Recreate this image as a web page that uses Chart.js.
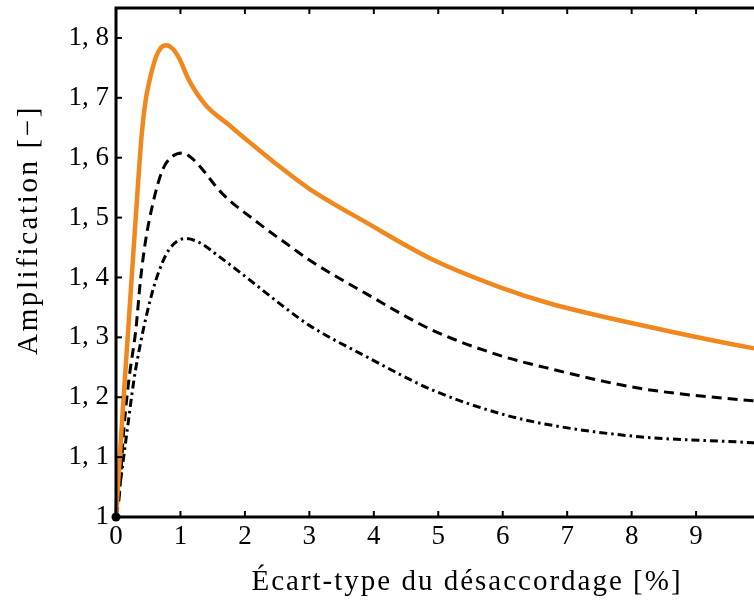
<!DOCTYPE html>
<html>
<head>
<meta charset="utf-8">
<script src="https://cdn.jsdelivr.net/npm/chart.js@4.4.1/dist/chart.umd.min.js"></script>
<style>
  html, body { margin: 0; padding: 0; background: #ffffff; overflow: hidden; }
  canvas { display: block; }
</style>
</head>
<body>
<canvas id="c" width="840" height="600"></canvas>
<script>
// ---- data ----
const xTicks = [0, 1, 2, 3, 4, 5, 6, 7, 8, 9];
const yTicks = [1, 1.1, 1.2, 1.3, 1.4, 1.5, 1.6, 1.7, 1.8];
const yTickLabels = ['1', '1, 1', '1, 2', '1, 3', '1, 4', '1, 5', '1, 6', '1, 7', '1, 8'];

const orangeX = [0, 0.1, 0.2, 0.3, 0.40, 0.46, 0.51, 0.62, 0.70, 0.78, 0.88, 0.98, 1.13, 1.39, 1.75, 2.07, 2.48, 3.0, 3.88, 4.91, 5.95, 6.72, 8.12, 9.88, 10.0];
const orangeY = [1.0, 1.17, 1.33, 1.49, 1.64, 1.696, 1.724, 1.768, 1.784, 1.788, 1.782, 1.766, 1.730, 1.688, 1.655, 1.626, 1.590, 1.548, 1.492, 1.430, 1.384, 1.357, 1.321, 1.282, 1.280];

const dashedX = [0, 0.05, 0.12, 0.2, 0.31, 0.38, 0.46, 0.56, 0.72, 0.85, 1.03, 1.2, 1.65, 2.22, 2.74, 3.0, 3.88, 4.91, 5.95, 6.72, 8.12, 9.88, 10.0];
const dashedY = [1.0, 1.034, 1.145, 1.229, 1.315, 1.396, 1.462, 1.518, 1.579, 1.600, 1.608, 1.597, 1.540, 1.490, 1.449, 1.429, 1.373, 1.312, 1.270, 1.248, 1.215, 1.194, 1.193];

const dashDotX = [0, 0.07, 0.18, 0.28, 0.38, 0.48, 0.62, 0.82, 1.08, 1.3, 1.6, 2.12, 2.58, 3.0, 3.88, 4.91, 5.95, 6.72, 8.12, 9.88, 10.0];
const dashDotY = [1.0, 1.06, 1.15, 1.23, 1.29, 1.34, 1.396, 1.446, 1.465, 1.458, 1.435, 1.392, 1.353, 1.320, 1.268, 1.212, 1.173, 1.154, 1.134, 1.124, 1.123];

const xTitle = 'Écart-type du désaccordage [%]';
const yTitle = 'Amplification [−]';

// ---- helpers ----
function pts(xs, ys) { return xs.map((x, i) => ({ x: x, y: ys[i] })); }

const FONT = "'Liberation Serif', 'DejaVu Serif', serif";
const FSIZE = 27;

const frameTicks = {
  id: 'frameTicks',
  afterDatasetsDraw(chart) {
    const { ctx, chartArea: a, scales } = chart;
    ctx.save();
    ctx.strokeStyle = '#000';
    ctx.lineWidth = 2;
    const L = 6;
    xTicks.forEach(v => {
      const px = scales.x.getPixelForValue(v);
      ctx.beginPath();
      ctx.moveTo(px, a.bottom); ctx.lineTo(px, a.bottom - L);
      ctx.moveTo(px, a.top); ctx.lineTo(px, a.top + L);
      ctx.stroke();
    });
    yTicks.forEach(v => {
      const py = scales.y.getPixelForValue(v);
      ctx.beginPath();
      ctx.moveTo(a.left, py); ctx.lineTo(a.left + L, py);
      ctx.stroke();
    });
    ctx.lineWidth = 3;
    ctx.lineJoin = 'miter';
    ctx.strokeRect(a.left, a.top, a.right - a.left, a.bottom - a.top);
    // origin marker
    const ox = scales.x.getPixelForValue(orangeX[0]);
    const oy = scales.y.getPixelForValue(orangeY[0]);
    ctx.fillStyle = '#000';
    ctx.beginPath(); ctx.arc(ox, oy, 4.5, 0, Math.PI * 2); ctx.fill();
    ctx.restore();
  },
  afterDraw(chart) {
    const { ctx, chartArea: a } = chart;
    ctx.save();
    ctx.fillStyle = '#000';
    ctx.font = '29px ' + FONT;
    ctx.textAlign = 'center';
    ctx.textBaseline = 'alphabetic';
    ctx.letterSpacing = '2px';
    ctx.fillText(xTitle, 467, 590);
    ctx.letterSpacing = '2.6px';
    ctx.translate(37, 230);
    ctx.rotate(-Math.PI / 2);
    ctx.fillText(yTitle, 0, 0);
    ctx.restore();
  }
};

new Chart(document.getElementById('c'), {
  type: 'line',
  data: {
    datasets: [
      { label: 'orange', data: pts(orangeX, orangeY), borderColor: '#F0881E', borderWidth: 4.5, pointRadius: 0,
        cubicInterpolationMode: 'monotone', fill: false, clip: false },
      { label: 'dashed', data: pts(dashedX, dashedY), borderColor: '#000', borderWidth: 3, borderDash: [10, 6], pointRadius: 0,
        cubicInterpolationMode: 'monotone', fill: false, clip: false },
      { label: 'dashdot', data: pts(dashDotX, dashDotY), borderColor: '#000', borderWidth: 3, borderDash: [8, 4, 2.5, 4], pointRadius: 0,
        cubicInterpolationMode: 'monotone', fill: false, clip: false }
    ]
  },
  options: {
    responsive: false,
    animation: false,
    devicePixelRatio: 1,
    layout: { padding: { left: 0, right: 15, top: 8, bottom: 0 } },
    plugins: { legend: { display: false }, tooltip: { enabled: false } },
    scales: {
      x: {
        type: 'linear', min: 0, max: 11,
        grid: { display: false, drawTicks: false },
        border: { display: false },
        afterBuildTicks: s => { s.ticks = xTicks.map(v => ({ value: v })); },
        afterFit: s => { s.height = 83; s.paddingLeft = 0; s.paddingRight = 0; },
        ticks: { color: '#000', padding: 4, maxRotation: 0, autoSkip: false,
                 font: { family: FONT, size: FSIZE },
                 callback: v => String(v) }
      },
      y: {
        type: 'linear', min: 1, max: 1.85,
        grid: { display: false, drawTicks: false },
        border: { display: false },
        afterBuildTicks: s => { s.ticks = yTicks.map(v => ({ value: v })); },
        afterFit: s => { s.width = 116; s.paddingTop = 0; s.paddingBottom = 0; },
        ticks: { color: '#000', padding: 7, autoSkip: false,
                 font: { family: FONT, size: FSIZE },
                 callback: (v, i) => yTickLabels[i] }
      }
    }
  },
  plugins: [frameTicks]
});
</script>
</body>
</html>
